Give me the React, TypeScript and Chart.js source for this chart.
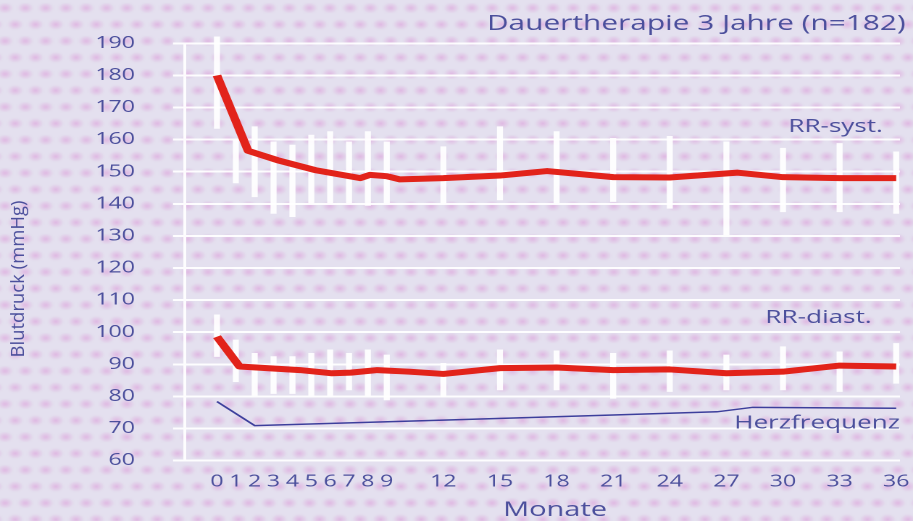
import React, { useEffect, useRef } from 'react';
import { Chart, registerables } from 'chart.js';

Chart.register(...registerables);

// ---- data ----
const xTickValues = [0, 1, 2, 3, 4, 5, 6, 7, 8, 9, 12, 15, 18, 21, 24, 27, 30, 33, 36];

const errorMonths = [0, 1, 2, 3, 4, 5, 6, 7, 8, 9, 12, 15, 18, 21, 24, 27, 30, 33, 36];
const systLow = [163.5, 146.5, 142.2, 137, 136, 140.2, 140.2, 140.2, 139.5, 140.2, 140.2, 141.2, 140.2, 140.7, 138.6, 130.3, 137.5, 137.5, 137];
const systHigh = [192, 160, 164, 159.3, 158.3, 161.4, 162.5, 159.3, 162.5, 159.3, 157.8, 164, 162.5, 160.4, 161, 159.3, 157.3, 158.8, 156.2];
const diastLow = [92.4, 84.6, 80.4, 80.9, 80.9, 80.4, 80.4, 82, 80.4, 78.9, 79.9, 82, 82, 79.4, 81.5, 82, 82, 81.5, 84.1];
const diastHigh = [105.4, 97.6, 93.4, 92.4, 92.4, 93.4, 94.5, 93.4, 94.5, 92.9, 90.3, 94.5, 94.2, 93.4, 94.2, 92.9, 95.5, 93.9, 96.5];

const systMonths = [0, 1.65, 3.2, 5.2, 7.6, 8.1, 9.0, 9.7, 12, 15, 17.5, 21, 24, 27.6, 30, 33, 36];
const systMean = [180, 156.5, 153.6, 150.5, 148, 149, 148.6, 147.6, 148, 148.8, 150.2, 148.3, 148.2, 149.7, 148.3, 148, 148];

const diastMonths = [0, 1.2, 4.4, 6.1, 7.1, 8.5, 10.2, 12, 15, 18, 21, 24, 27, 30, 33, 36];
const diastMean = [98.6, 89.3, 88.2, 87.2, 87.4, 88.2, 87.7, 87, 88.8, 89, 88.2, 88.4, 87.2, 87.7, 89.6, 89.3];

const hrMonths = [0, 2, 12, 21, 26.5, 28.4, 36];
const hrMean = [78.4, 70.9, 72.6, 74.2, 75.2, 76.6, 76.3];

const titleText = 'Dauertherapie 3 Jahre (n=182)';
const xTitle = 'Monate';
const yTitle = 'Blutdruck (mmHg)';
const seriesLabels = ['RR-syst.', 'RR-diast.', 'Herzfrequenz'];

// ---- layout / style ----
const W = 630;
const H = 521;
const STRETCH = 913 / W;
const FONT = '"Open Sans", "DejaVu Sans", sans-serif';
const TEXT = '#4b4f9c';
const RED = '#e2231a';
const NAVY = '#3d3f9c';
const WHITE = 'rgba(255,255,255,0.92)';

function makePattern(ctx: CanvasRenderingContext2D) {
  const c = document.createElement('canvas');
  c.width = 14;
  c.height = 33;
  const g = c.getContext('2d')!;
  g.fillStyle = '#e4e0ef';
  g.fillRect(0, 0, 14, 33);
  const blob = (cx: number, cy: number) => {
    for (const dx of [-14, 0, 14]) {
      for (const dy of [-33, 0, 33]) {
        const x0 = cx + dx;
        const y0 = cy + dy;
        const rg = g.createRadialGradient(x0, y0, 0, x0, y0, 5.5);
        rg.addColorStop(0, 'rgba(222,168,222,0.7)');
        rg.addColorStop(1, 'rgba(222,168,222,0)');
        g.fillStyle = rg;
        g.fillRect(x0 - 6, y0 - 6, 12, 12);
      }
    }
  };
  blob(3.5, 8);
  blob(10.5, 24.5);
  return ctx.createPattern(c, 'repeat');
}

const decoPlugin = {
  id: 'deco',
  beforeDraw(chart: any) {
    const ctx = chart.ctx as CanvasRenderingContext2D;
    ctx.save();
    const p = makePattern(ctx);
    ctx.fillStyle = p || '#e4dcee';
    ctx.fillRect(0, 0, chart.width, chart.height);
    ctx.restore();
  },
  afterDraw(chart: any) {
    const ctx = chart.ctx as CanvasRenderingContext2D;
    const x = chart.scales.x;
    const y = chart.scales.y;
    ctx.save();
    ctx.fillStyle = TEXT;
    ctx.textBaseline = 'alphabetic';

    ctx.textAlign = 'right';
    ctx.font = `20.6px ${FONT}`;
    ctx.fillText(titleText, 625, 30);

    ctx.font = `18px ${FONT}`;
    ctx.fillText(seriesLabels[0], x.getPixelForValue(35.3), y.getPixelForValue(162.4));
    ctx.fillText(seriesLabels[1], x.getPixelForValue(34.7), y.getPixelForValue(102.9));
    ctx.fillText(seriesLabels[2], x.getPixelForValue(36.2), y.getPixelForValue(70.0));

    ctx.textAlign = 'center';
    ctx.font = `20px ${FONT}`;
    ctx.fillText(xTitle, 383, 516);

    ctx.translate(13, 279);
    ctx.scale(1 / STRETCH, 1);
    ctx.rotate(-Math.PI / 2);
    ctx.textBaseline = 'middle';
    ctx.font = `18.5px ${FONT}`;
    ctx.fillText(yTitle, 0, 0);
    ctx.restore();
  },
};

export default function App() {
  const ref = useRef<HTMLCanvasElement | null>(null);

  useEffect(() => {
    if (!ref.current) return;
    const toPts = (xs: number[], ys: number[]) => xs.map((v, i) => ({ x: v, y: ys[i] }));
    const toBars = (xs: number[], lo: number[], hi: number[]) =>
      xs.map((v, i) => ({ x: v, y: [lo[i], hi[i]] }));

    const chart = new Chart(ref.current, {
      type: 'line',
      data: {
        datasets: [
          {
            type: 'line',
            label: seriesLabels[0],
            data: toPts(systMonths, systMean),
            borderColor: RED,
            borderWidth: 6,
            borderJoinStyle: 'round',
            borderCapStyle: 'butt',
            pointRadius: 0,
            tension: 0,
            order: 1,
          },
          {
            type: 'line',
            label: seriesLabels[1],
            data: toPts(diastMonths, diastMean),
            borderColor: RED,
            borderWidth: 6,
            borderJoinStyle: 'round',
            borderCapStyle: 'butt',
            pointRadius: 0,
            tension: 0,
            order: 1,
          },
          {
            type: 'line',
            label: seriesLabels[2],
            data: toPts(hrMonths, hrMean),
            borderColor: NAVY,
            borderWidth: 1.5,
            pointRadius: 0,
            tension: 0,
            order: 0,
          },
          {
            type: 'bar',
            label: 'syst-sd',
            data: toBars(errorMonths, systLow, systHigh) as any,
            backgroundColor: WHITE,
            borderWidth: 0,
            borderSkipped: false,
            barThickness: 3.5,
            grouped: false,
            clip: false as any,
            order: 2,
          },
          {
            type: 'bar',
            label: 'diast-sd',
            data: toBars(errorMonths, diastLow, diastHigh) as any,
            backgroundColor: WHITE,
            borderWidth: 0,
            borderSkipped: false,
            barThickness: 3.5,
            grouped: false,
            order: 2,
          },
        ] as any,
      },
      options: {
        animation: false,
        responsive: true,
        maintainAspectRatio: false,
        devicePixelRatio: 2,
        layout: { padding: { left: 0, top: 43.3, right: 9, bottom: 0 } },
        plugins: { legend: { display: false }, tooltip: { enabled: false }, title: { display: false } },
        scales: {
          x: {
            type: 'linear',
            min: -1.69,
            max: 36.2,
            offset: false,
            grid: { display: false, drawTicks: false, offset: false },
            border: { display: false },
            afterBuildTicks: (s: any) => {
              s.ticks = xTickValues.map((v) => ({ value: v }));
            },
            afterFit: (s: any) => {
              s.height = H - 460.6;
              s.paddingLeft = 0;
              s.paddingRight = 0;
            },
            ticks: {
              autoSkip: false,
              maxRotation: 0,
              minRotation: 0,
              padding: 11.5,
              color: TEXT,
              font: { family: FONT, size: 16 },
              callback: (v: any) => String(v),
            },
          },
          y: {
            type: 'linear',
            min: 60,
            max: 190,
            beginAtZero: false,
            afterFit: (s: any) => {
              s.width = 127.7;
              s.paddingTop = 0;
              s.paddingBottom = 0;
            },
            grid: { color: WHITE, lineWidth: 2, drawTicks: true, tickLength: 8.3 },
            border: { display: true, color: WHITE, width: 2 },
            ticks: {
              stepSize: 10,
              padding: 26.2,
              color: TEXT,
              font: { family: FONT, size: 16 },
            },
          },
        },
      } as any,
      plugins: [decoPlugin],
    });
    return () => chart.destroy();
  }, []);

  return (
    <div
      style={{
        position: 'fixed',
        left: 0,
        top: 0,
        width: W,
        height: H,
        transform: `scaleX(${STRETCH})`,
        transformOrigin: '0 0',
      }}
    >
      <canvas ref={ref} />
    </div>
  );
}
